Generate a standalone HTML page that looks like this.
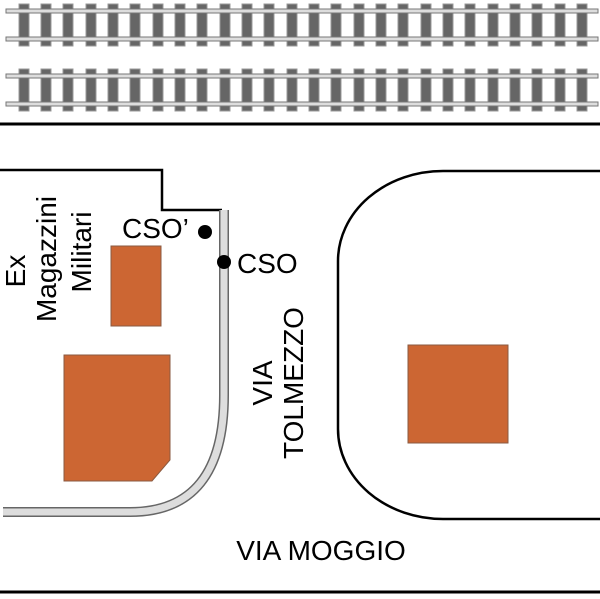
<!DOCTYPE html>
<html><head><meta charset="utf-8"><style>
html,body{margin:0;padding:0;background:#fff;}
svg{display:block;}
text{font-family:"Liberation Sans",Arial,sans-serif;font-size:28px;fill:#000;}
</style></head><body>
<svg width="600" height="599" viewBox="0 0 600 599" xmlns="http://www.w3.org/2000/svg">
<defs>
<g id="track">
  <g fill="#666" stroke="#999" stroke-width="1">
    <rect x="19" y="4" width="10" height="42"/><rect x="41" y="4" width="10" height="42"/>
    <rect x="63" y="4" width="10" height="42"/><rect x="86" y="4" width="10" height="42"/>
    <rect x="108" y="4" width="10" height="42"/><rect x="130" y="4" width="10" height="42"/>
    <rect x="153" y="4" width="10" height="42"/><rect x="175" y="4" width="10" height="42"/>
    <rect x="197" y="4" width="10" height="42"/><rect x="220" y="4" width="10" height="42"/>
    <rect x="242" y="4" width="10" height="42"/><rect x="264" y="4" width="10" height="42"/>
    <rect x="287" y="4" width="10" height="42"/><rect x="309" y="4" width="10" height="42"/>
    <rect x="331" y="4" width="10" height="42"/><rect x="354" y="4" width="10" height="42"/>
    <rect x="376" y="4" width="10" height="42"/><rect x="398" y="4" width="10" height="42"/>
    <rect x="421" y="4" width="10" height="42"/><rect x="443" y="4" width="10" height="42"/>
    <rect x="465" y="4" width="10" height="42"/><rect x="488" y="4" width="10" height="42"/>
    <rect x="510" y="4" width="10" height="42"/><rect x="532" y="4" width="10" height="42"/>
    <rect x="555" y="4" width="10" height="42"/><rect x="577" y="4" width="10" height="42"/>
  </g>
  <rect x="6" y="9" width="592" height="4" fill="#ddd" stroke="#777" stroke-width="1"/>
  <rect x="6" y="37" width="592" height="4" fill="#ddd" stroke="#777" stroke-width="1"/>
</g>
</defs>
<use href="#track"/>
<use href="#track" y="65"/>
<line x1="0" y1="124" x2="600" y2="124" stroke="#000" stroke-width="3"/>

<polyline points="0,170 162,170 162,210 222,210" fill="none" stroke="#000" stroke-width="2.5"/>
<path d="M224,210 L224,395 Q224,512 130,512 L3,512" fill="none" stroke="#666" stroke-width="10" stroke-linecap="butt"/>
<path d="M224,210 L224,395 Q224,512 130,512 L3,512" fill="none" stroke="#ddd" stroke-width="7"/>

<rect x="111" y="246" width="50" height="80" fill="#cc6633" stroke="#8a5a40" stroke-width="1"/>
<polygon points="64,355 170,355 170,460 152,481 64,481" fill="#cc6633" stroke="#8a5a40" stroke-width="1"/>
<rect x="408" y="345" width="100" height="98" fill="#cc6633" stroke="#8a5a40" stroke-width="1"/>

<path d="M600,171 L443,171 A105,90 0 0 0 338,261 L338,429 A105,90 0 0 0 443,519 L600,519" fill="none" stroke="#000" stroke-width="2.5"/>

<circle cx="205" cy="232" r="7" fill="#000"/>
<circle cx="224" cy="262" r="7" fill="#000"/>
<text x="122" y="238">CSO’</text>
<text x="237" y="273">CSO</text>

<text transform="translate(25,271) rotate(-90)" text-anchor="middle">Ex</text>
<text transform="translate(56,259) rotate(-90)" text-anchor="middle">Magazzini</text>
<text transform="translate(91,252) rotate(-90)" text-anchor="middle">Militari</text>
<text transform="translate(272,383) rotate(-90)" text-anchor="middle">VIA</text>
<text transform="translate(303,383) rotate(-90)" text-anchor="middle">TOLMEZZO</text>

<text x="321" y="560" text-anchor="middle">VIA MOGGIO</text>
<line x1="0" y1="592" x2="600" y2="592" stroke="#000" stroke-width="3"/>
</svg>
</body></html>
